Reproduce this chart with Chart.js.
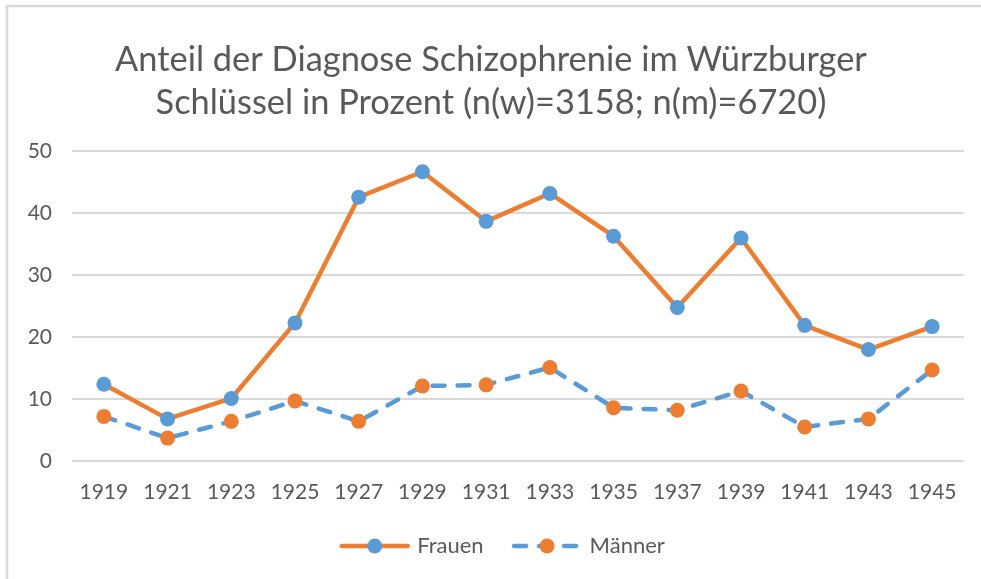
<!DOCTYPE html>
<html>
<head>
<meta charset="utf-8">
<script src="https://cdn.jsdelivr.net/npm/chart.js@4"></script>
<style>
  html, body { margin: 0; padding: 0; background: #fff; overflow: hidden; }
  #wrap { position: absolute; left: 0; top: 0; width: 981px; height: 590px; }
</style>
</head>
<body>
<div id="wrap"><canvas id="c" width="981" height="590"></canvas></div>
<script>
const years = ['1919','1921','1923','1925','1927','1929','1931','1933','1935','1937','1939','1941','1943','1945'];
const frauen = [12.4, 6.8, 10.1, 22.3, 42.6, 46.7, 38.7, 43.2, 36.3, 24.8, 36.0, 21.9, 18.0, 21.7];
const maenner = [7.2, 3.7, 6.4, 9.7, 6.4, 12.1, 12.3, 15.1, 8.6, 8.2, 11.3, 5.5, 6.8, 14.7];
const titleLines = ['Anteil der Diagnose Schizophrenie im Würzburger', 'Schlüssel in Prozent (n(w)=3158; n(m)=6720)'];
const yTicks = [0, 10, 20, 30, 40, 50];

const ORANGE = '#ED7D31';
const BLUE = '#5B9BD5';
const TEXT = '#595959';
const FONT = 'Lato, "Open Sans", sans-serif';
const DASH = [12, 13];

function legendIcon(lineColor, pointColor, dashed) {
  const cv = document.createElement('canvas');
  cv.width = 72; cv.height = 18;
  const g = cv.getContext('2d');
  g.strokeStyle = lineColor;
  g.lineWidth = 4.5;
  g.lineCap = 'round';
  if (dashed) g.setLineDash(DASH);
  g.beginPath(); g.moveTo(3, 9); g.lineTo(69, 9); g.stroke();
  g.setLineDash([]);
  g.fillStyle = pointColor;
  g.beginPath(); g.arc(36, 9, 7.5, 0, Math.PI * 2); g.fill();
  return cv;
}
const icons = [legendIcon(ORANGE, BLUE, false), legendIcon(BLUE, ORANGE, true)];

const framePlugin = {
  id: 'frame',
  beforeDraw(chart) {
    const ctx = chart.ctx;
    ctx.save();
    ctx.strokeStyle = '#d9d9d9';
    ctx.lineWidth = 2.5;
    ctx.beginPath();
    ctx.moveTo(7, 579); ctx.lineTo(7, 6); ctx.lineTo(981, 6);
    ctx.stroke();
    ctx.restore();
  },
  afterLayout(chart) {
    if (chart.legend) { chart.legend.left += 18; chart.legend.right += 18; }
    if (chart.titleBlock) { chart.titleBlock.left += 5; chart.titleBlock.right += 5; }
  }
};

new Chart(document.getElementById('c'), {
  type: 'line',
  data: {
    labels: years,
    datasets: [
      {
        label: 'Frauen', data: frauen,
        borderColor: ORANGE, backgroundColor: BLUE,
        borderWidth: 4.5, pointRadius: 7.5, pointHoverRadius: 7.5,
        pointBackgroundColor: BLUE, pointBorderWidth: 0,
        borderJoinStyle: 'round', borderCapStyle: 'round', tension: 0
      },
      {
        label: 'Männer', data: maenner,
        borderColor: BLUE, backgroundColor: ORANGE,
        borderWidth: 4.5, borderDash: DASH, borderCapStyle: 'round',
        pointRadius: 7.5, pointHoverRadius: 7.5,
        pointBackgroundColor: ORANGE, pointBorderWidth: 0,
        borderJoinStyle: 'round', tension: 0
      }
    ]
  },
  options: {
    responsive: false,
    animation: false,
    events: [],
    layout: { padding: { left: 8, right: 17, top: 10, bottom: 23 } },
    plugins: {
      tooltip: { enabled: false },
      title: {
        display: true,
        text: titleLines,
        color: TEXT,
        font: { family: FONT, size: 34.4, weight: 'normal', lineHeight: 1.255 },
        padding: { top: 28, bottom: 27 }
      },
      legend: {
        position: 'bottom',
        labels: {
          color: TEXT,
          font: { family: FONT, size: 22 },
          usePointStyle: true,
          pointStyleWidth: 63,
          boxHeight: 18,
          padding: 32,
          generateLabels(chart) {
            return chart.data.datasets.map((ds, i) => ({
              text: ds.label,
              fillStyle: ds.backgroundColor,
              strokeStyle: ds.borderColor,
              lineWidth: 0,
              pointStyle: icons[i],
              fontColor: TEXT,
              hidden: false,
              datasetIndex: i
            }));
          }
        }
      }
    },
    scales: {
      x: {
        offset: true,
        afterFit(axis) { axis.height = 42; },
        grid: { display: false, drawTicks: false },
        border: { display: false },
        ticks: { color: TEXT, font: { family: FONT, size: 21 }, padding: 19, maxRotation: 0 }
      },
      y: {
        min: 0, max: 50,
        afterBuildTicks(axis) { axis.ticks = yTicks.map(v => ({ value: v })); },
        afterFit(axis) { axis.width = 64; },
        grid: { color: '#d9d9d9', lineWidth: 2, drawTicks: false },
        border: { display: false },
        ticks: { color: TEXT, font: { family: FONT, size: 21 }, padding: 20 }
      }
    }
  },
  plugins: [framePlugin]
});
</script>
</body>
</html>
